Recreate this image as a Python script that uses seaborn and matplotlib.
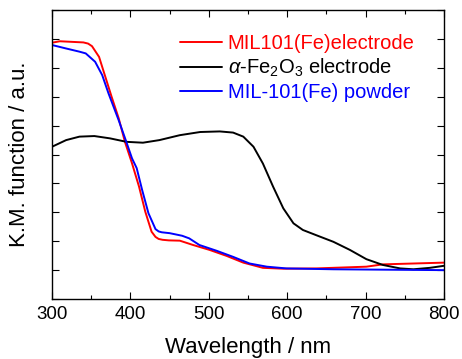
"""
Kubelka-Munk spectra of MIL-101(Fe) and alpha-Fe2O3 samples
"""

import numpy as np
import pandas as pd
import matplotlib
matplotlib.use("Agg")
import matplotlib.pyplot as plt
import seaborn as sns
from matplotlib.ticker import MultipleLocator

# MIL101(Fe) electrode
red_wl = [300, 310, 325, 340, 346, 351, 360, 368, 376, 385, 393, 402, 411, 419,
          427, 432, 436, 441, 449, 463, 480, 501, 523, 544, 569, 595, 637, 701,
          722, 800]
red_km = [8.87, 8.92, 8.90, 8.88, 8.84, 8.75, 8.38, 7.69, 7.00, 6.26, 5.44, 4.70,
          3.89, 3.02, 2.33, 2.15, 2.08, 2.05, 2.03, 2.02, 1.87, 1.70, 1.49, 1.26,
          1.08, 1.05, 1.06, 1.12, 1.20, 1.26]

# alpha-Fe2O3 electrode
black_wl = [300, 318, 335, 354, 374, 395, 416, 437, 463, 489, 514, 531, 544, 557,
            569, 582, 595, 608, 620, 637, 659, 680, 701, 722, 744, 761, 782, 800]
black_km = [5.27, 5.50, 5.62, 5.64, 5.56, 5.44, 5.41, 5.50, 5.67, 5.78, 5.80, 5.76,
            5.62, 5.27, 4.69, 3.89, 3.14, 2.62, 2.39, 2.21, 1.98, 1.70, 1.38, 1.18,
            1.06, 1.03, 1.08, 1.15]

# MIL-101(Fe) powder
blue_wl = [300, 318, 335, 343, 355, 364, 372, 385, 394, 402, 408, 415, 423, 432,
           436, 440, 450, 466, 475, 488, 510, 531, 552, 574, 599, 659, 800]
blue_km = [8.79, 8.67, 8.56, 8.50, 8.21, 7.75, 7.12, 6.19, 5.50, 4.87, 4.53, 3.77,
           2.97, 2.42, 2.34, 2.31, 2.28, 2.19, 2.10, 1.87, 1.67, 1.46, 1.23, 1.12,
           1.06, 1.03, 1.00]

labels = ["MIL101(Fe)electrode", r"$\alpha$-Fe$_2$O$_3$ electrode", "MIL-101(Fe) powder"]
colors = ["#ff0000", "#000000", "#0000ff"]

sns.set_theme(style="ticks")
plt.rcParams["font.family"] = ["Liberation Sans", "DejaVu Sans"]
plt.rcParams["mathtext.fontset"] = "custom"
plt.rcParams["mathtext.rm"] = "Liberation Sans"
plt.rcParams["mathtext.it"] = "Liberation Sans:italic"
plt.rcParams["text.color"] = "black"
plt.rcParams["axes.labelcolor"] = "black"
plt.rcParams["xtick.color"] = "black"
plt.rcParams["ytick.color"] = "black"

df = pd.concat([
    pd.DataFrame({"wl": red_wl, "km": red_km, "sample": labels[0]}),
    pd.DataFrame({"wl": black_wl, "km": black_km, "sample": labels[1]}),
    pd.DataFrame({"wl": blue_wl, "km": blue_km, "sample": labels[2]}),
])

fig = plt.figure(figsize=(4.62, 3.59), dpi=100)
ax = fig.add_axes([0.1126, 0.167, 0.8484, 0.805])

sns.lineplot(data=df, x="wl", y="km", hue="sample", palette=colors,
             hue_order=labels, sort=False, estimator=None, lw=1.4, ax=ax)

ax.set_xlim(300, 800)
ax.set_ylim(0, 10)
ax.xaxis.set_major_locator(MultipleLocator(100))
ax.xaxis.set_minor_locator(MultipleLocator(50))
ax.yaxis.set_major_locator(MultipleLocator(1))
ax.set_yticklabels([])
ax.tick_params(axis="both", which="major", direction="in", length=5, width=0.8,
               labelsize=13.5, right=True, top=True)
ax.tick_params(axis="x", which="minor", direction="in", length=3, width=0.8, top=True)
ax.tick_params(axis="x", pad=5)
for s in ax.spines.values():
    s.set_linewidth(1.0)
    s.set_color("black")

ax.set_xlabel("Wavelength / nm", fontsize=16, labelpad=10)
ax.set_ylabel("K.M. function / a.u.", fontsize=16, labelpad=12)

leg = ax.legend(loc="upper left", bbox_to_anchor=(0.327, 0.918), frameon=False,
                fontsize=14.5, handlelength=2.1, handletextpad=0.25, labelspacing=0.2,
                borderpad=0, borderaxespad=0, labelcolor="linecolor")

fig.savefig("out.png", dpi=100)
